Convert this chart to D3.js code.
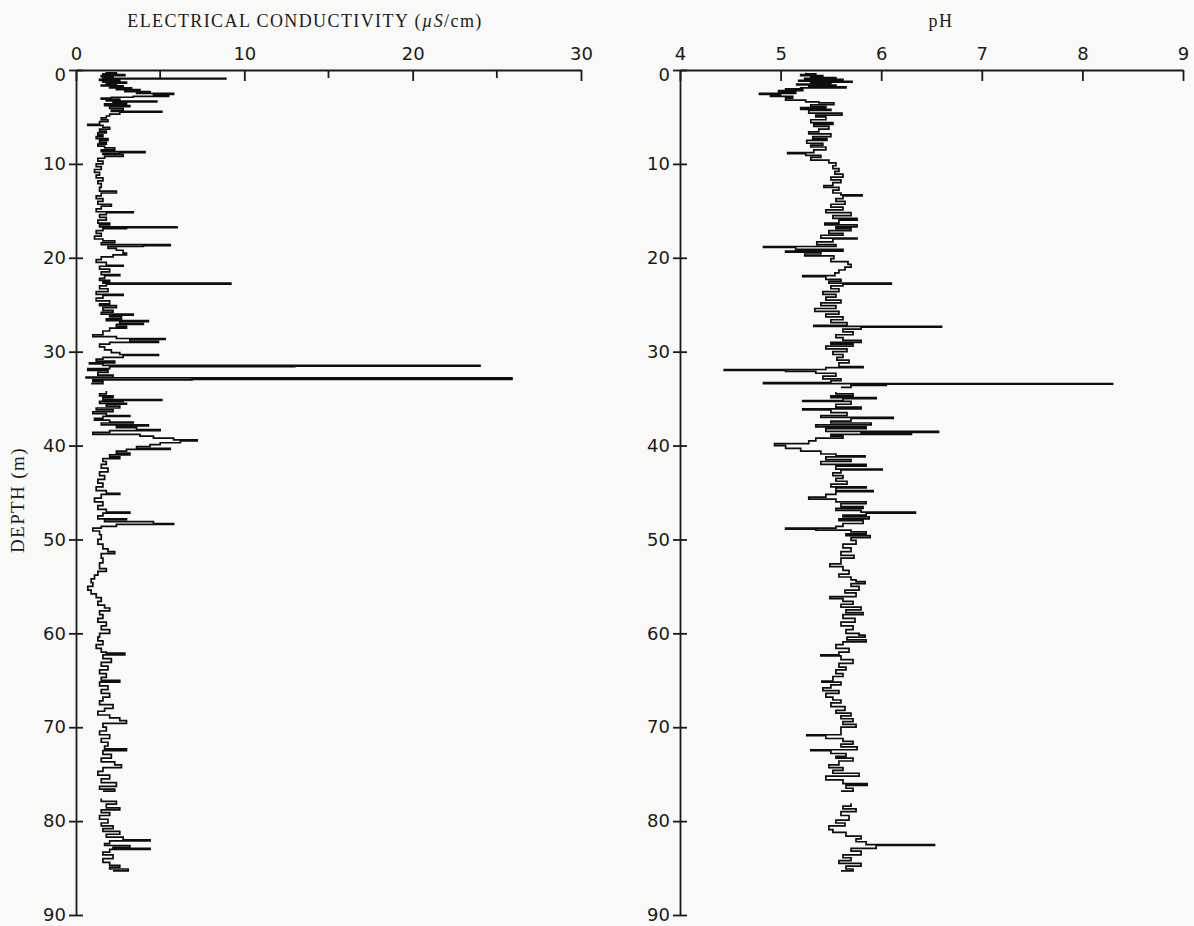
<!DOCTYPE html>
<meta charset='utf-8'>
<style>
  body { margin:0; background:#f9f9f7; }
  .tick text { font-family:'DejaVu Sans',sans-serif; font-size:18px; fill:#1a1a1a; }
  .domain, .tick line, .minor { stroke:#1a1a1a; stroke-width:1.8px; }
  .trace { fill:none; stroke:#0d0d0d; stroke-width:1.7px; }
  .title { font-family:'Liberation Serif',serif; font-size:18px; fill:#1a1a1a; letter-spacing:1.4px; }
</style>
<body>
<script src='https://d3js.org/d3.v7.min.js'></script>
<script>
// depth (m), conductivity (uS/cm); null = no core
var ecProfile = [
  [0.2,1.8],[0.3,2.4],[0.4,1.6],[0.5,2.9],[0.6,1.5],[0.7,2.2],[0.8,1.6],[0.9,8.9],[0.95,2.0],
  [1.0,1.4],[1.1,2.6],[1.2,1.6],[1.3,3.0],[1.4,1.8],[1.5,2.4],[1.6,1.5],[1.7,2.8],[1.8,2.0],
  [1.9,3.3],[2.0,2.4],[2.1,3.8],[2.2,2.9],[2.3,4.4],[2.4,3.6],[2.5,5.8],[2.6,4.6],[2.7,5.5],
  [2.8,3.4],[2.9,2.1],[3.0,1.5],[3.1,2.6],[3.2,1.8],[3.3,4.8],[3.4,2.2],[3.5,3.0],[3.6,1.7],
  [3.8,3.2],[3.9,2.0],[4.1,2.8],[4.3,2.1],[4.4,5.1],[4.5,2.6],[4.7,2.0],[4.9,1.8],[5.1,1.5],
  [5.3,1.9],[5.5,1.4],[5.8,0.7],[5.9,1.6],[6.1,2.0],[6.3,1.4],[6.5,1.8],[6.7,1.3],[6.9,1.6],
  [7.1,1.2],[7.3,1.9],[7.5,1.4],[7.7,1.8],[7.9,1.3],[8.1,1.7],[8.3,2.3],[8.5,1.5],[8.7,4.1],
  [8.8,2.6],[8.9,1.6],[9.0,2.8],[9.2,1.7],[9.4,1.3],[9.7,1.6],[10.0,1.2],[10.3,1.5],[10.6,1.1],
  [10.9,1.4],[11.2,1.2],[11.5,1.6],[11.8,1.3],[12.1,1.5],[12.5,1.4],[12.9,2.4],[13.1,1.5],
  [13.4,1.2],[13.7,1.6],[14.0,1.3],[14.3,2.1],[14.5,1.5],[14.8,1.2],[15.1,3.4],[15.2,1.8],
  [15.4,1.4],[15.7,1.8],[16.0,1.3],[16.3,2.0],[16.5,1.4],[16.7,6.0],[16.8,3.0],[16.9,1.6],
  [17.1,1.2],[17.4,1.5],[17.7,1.1],[18.0,1.6],[18.2,2.3],[18.4,1.5],[18.6,5.6],[18.7,4.0],
  [18.8,1.9],[19.0,2.4],[19.2,2.8],[19.5,3.0],[19.7,2.2],[19.9,1.5],[20.2,1.2],[20.5,1.8],
  [20.8,2.8],[20.9,1.4],[21.2,2.0],[21.5,1.5],[21.8,2.6],[21.9,1.7],[22.2,1.4],[22.4,2.0],
  [22.6,1.6],[22.7,9.2],[22.8,1.8],[23.0,1.4],[23.3,1.9],[23.6,1.2],[23.9,2.8],[24.0,1.6],
  [24.3,1.2],[24.6,2.0],[24.9,1.4],[25.1,2.4],[25.3,1.6],[25.6,2.2],[25.8,1.5],[26.0,3.4],
  [26.1,2.0],[26.3,2.7],[26.5,1.8],[26.7,4.3],[26.8,2.6],[27.0,4.0],[27.1,2.4],[27.3,3.0],
  [27.5,2.0],[27.8,1.6],[28.2,1.0],[28.4,2.4],[28.6,5.3],[28.7,3.2],[28.9,4.9],[29.0,2.0],
  [29.2,1.4],[29.5,1.7],[29.8,2.1],[30.1,2.6],[30.3,4.9],[30.4,2.8],[30.6,1.6],[30.8,1.2],
  [31.0,2.3],[31.2,0.8],[31.3,1.6],[31.45,24.0],[31.55,13.0],[31.6,2.0],[31.8,0.7],[32.0,1.9],
  [32.2,1.3],[32.5,2.2],[32.7,0.6],[32.8,25.9],[32.95,6.9],[33.0,1.0],[33.2,1.6],[33.4,0.9],
  [33.6,null],[34.2,1.8],[34.5,1.4],[34.7,2.2],[34.9,1.6],[35.1,5.1],[35.2,2.8],[35.3,1.4],
  [35.5,3.0],[35.6,1.8],[35.8,2.6],[36.0,1.2],[36.2,2.2],[36.4,1.0],[36.6,1.8],[36.8,3.2],
  [36.9,1.6],[37.1,1.1],[37.3,2.0],[37.5,3.4],[37.6,1.5],[37.8,4.3],[37.9,2.4],[38.1,3.6],
  [38.3,5.0],[38.4,2.0],[38.6,1.0],[38.8,3.8],[39.0,4.6],[39.2,5.8],[39.4,7.2],[39.5,6.2],
  [39.7,5.0],[39.9,4.4],[40.1,3.6],[40.3,5.6],[40.4,3.0],[40.6,2.4],[40.8,3.2],[41.0,2.0],
  [41.2,2.6],[41.4,1.6],[41.7,1.8],[42.0,1.5],[42.4,1.9],[42.8,1.4],[43.2,1.7],[43.6,1.3],
  [44.0,1.6],[44.4,1.2],[44.8,1.8],[45.1,2.6],[45.2,1.5],[45.6,1.1],[46.0,1.6],[46.4,1.3],
  [46.8,1.8],[47.1,3.2],[47.2,1.6],[47.5,1.3],[47.8,3.0],[47.9,1.7],[48.1,4.6],[48.3,5.8],
  [48.4,2.4],[48.6,1.5],[48.8,1.0],[49.1,1.4],[49.5,1.5],[50.0,1.3],[50.5,1.6],[51.0,1.9],
  [51.3,2.3],[51.5,1.5],[52.0,1.6],[52.5,1.4],[53.1,1.8],[53.4,1.3],[53.8,1.1],[54.2,0.9],
  [54.6,1.0],[55.0,0.7],[55.4,0.9],[55.8,1.2],[56.2,1.5],[56.6,1.3],[57.0,1.7],[57.3,2.0],
  [57.6,1.4],[58.0,1.6],[58.4,1.3],[58.8,1.8],[59.2,1.5],[59.6,2.0],[60.0,1.4],[60.4,1.3],
  [60.8,1.6],[61.2,1.2],[61.6,1.5],[62.0,1.8],[62.1,2.9],[62.3,1.6],[62.7,2.1],[63.1,1.5],
  [63.5,1.9],[63.9,1.4],[64.3,1.8],[64.7,1.5],[65.0,2.6],[65.2,1.4],[65.6,1.9],[66.0,1.5],
  [66.4,2.0],[66.8,1.6],[67.2,1.4],[67.6,2.2],[68.0,1.7],[68.3,1.3],[68.7,2.0],[69.0,2.6],
  [69.3,3.0],[69.6,1.6],[70.0,1.8],[70.4,1.4],[70.8,2.0],[71.2,1.5],[71.6,1.9],[72.0,1.7],
  [72.3,3.0],[72.5,1.6],[72.9,2.1],[73.3,1.5],[73.7,2.3],[74.0,2.7],[74.3,1.6],[74.7,1.3],
  [75.1,2.0],[75.5,1.5],[75.9,2.4],[76.3,1.4],[76.6,2.3],[76.8,1.6],[77.0,null],[77.6,1.5],
  [77.9,2.4],[78.2,1.8],[78.6,2.6],[78.8,1.5],[79.1,2.0],[79.4,1.4],[79.8,1.9],[80.2,1.5],
  [80.5,2.2],[80.8,1.6],[81.1,2.6],[81.4,1.8],[81.7,2.8],[82.0,4.4],[82.1,2.0],[82.4,1.7],
  [82.6,3.2],[82.8,2.2],[82.9,4.4],[83.0,2.0],[83.3,1.6],[83.6,2.2],[84.0,1.6],[84.4,2.0],
  [84.7,2.6],[84.9,2.0],[85.1,3.1],[85.3,2.2]
];

// depth (m), pH
var phProfile = [
  [0.3,5.25],[0.4,5.35],[0.5,5.20],[0.6,5.42],[0.7,5.30],[0.8,5.55],[0.9,5.24],[1.0,5.62],
  [1.1,5.18],[1.2,5.71],[1.3,5.30],[1.4,5.50],[1.5,5.16],[1.6,5.55],[1.7,5.28],[1.8,5.65],
  [1.9,5.20],[2.0,5.05],[2.1,5.22],[2.2,4.98],[2.3,5.15],[2.5,4.79],[2.6,5.00],[2.7,4.90],
  [2.8,5.12],[3.0,5.05],[3.2,5.25],[3.4,5.38],[3.5,5.53],[3.7,5.30],[3.9,5.45],[4.0,5.20],
  [4.2,5.50],[4.3,5.28],[4.6,5.61],[4.8,5.35],[5.0,5.45],[5.3,5.30],[5.6,5.52],[5.8,5.33],
  [6.0,5.48],[6.3,5.38],[6.6,5.28],[6.8,5.50],[7.1,5.32],[7.3,5.46],[7.5,5.26],[7.8,5.42],
  [8.0,5.30],[8.2,5.45],[8.5,5.33],[8.8,5.07],[8.9,5.25],[9.1,5.40],[9.3,5.30],[9.6,5.48],
  [9.9,5.55],[10.2,5.52],[10.5,5.58],[10.8,5.54],[11.1,5.62],[11.4,5.50],[11.7,5.60],[12.0,5.52],
  [12.3,5.43],[12.5,5.58],[12.8,5.52],[13.1,5.60],[13.3,5.81],[13.4,5.62],[13.7,5.55],[14.0,5.64],
  [14.3,5.50],[14.6,5.62],[14.9,5.45],[15.2,5.70],[15.5,5.52],[15.8,5.76],[16.0,5.58],[16.3,5.44],
  [16.5,5.76],[16.7,5.55],[16.9,5.70],[17.1,5.48],[17.4,5.62],[17.6,5.40],[17.9,5.76],[18.0,5.52],
  [18.3,5.36],[18.6,5.55],[18.8,4.83],[18.9,5.15],[19.1,5.62],[19.3,5.05],[19.4,5.40],[19.6,5.24],
  [19.8,5.53],[20.1,5.50],[20.4,5.67],[20.7,5.70],[21.0,5.64],[21.3,5.58],[21.6,5.54],[21.9,5.22],
  [22.0,5.45],[22.3,5.60],[22.5,5.48],[22.7,6.10],[22.8,5.62],[23.0,5.50],[23.3,5.58],[23.6,5.42],
  [23.9,5.55],[24.2,5.45],[24.5,5.60],[24.8,5.40],[25.1,5.55],[25.4,5.34],[25.7,5.58],[26.0,5.45],
  [26.3,5.62],[26.6,5.50],[26.9,5.66],[27.2,5.33],[27.3,6.60],[27.4,5.80],[27.6,5.62],[27.9,5.72],
  [28.2,5.55],[28.5,5.62],[28.8,5.80],[29.0,5.50],[29.2,5.72],[29.4,5.45],[29.7,5.66],[30.0,5.52],
  [30.3,5.62],[30.6,5.56],[30.9,5.68],[31.2,5.58],[31.6,5.82],[31.7,5.45],[31.9,4.44],[32.0,5.05],
  [32.1,5.35],[32.3,5.55],[32.6,5.42],[32.9,5.60],[33.1,5.50],[33.3,4.83],[33.4,8.30],[33.45,6.05],
  [33.6,5.70],[33.8,5.60],[34.0,null],[34.3,5.55],[34.5,5.72],[34.7,5.50],[34.9,5.95],[35.0,5.62],
  [35.2,5.22],[35.3,5.70],[35.6,5.55],[35.9,5.80],[36.1,5.22],[36.2,5.50],[36.5,5.66],[36.8,5.40],
  [37.0,6.12],[37.1,5.70],[37.4,5.50],[37.6,5.90],[37.8,5.35],[38.0,5.85],[38.2,5.45],[38.5,6.57],
  [38.6,5.80],[38.7,6.30],[38.8,5.50],[39.0,5.62],[39.2,5.35],[39.5,5.28],[39.8,4.94],[40.0,5.05],
  [40.3,5.20],[40.6,5.40],[40.9,5.55],[41.1,5.84],[41.2,5.45],[41.5,5.70],[41.7,5.40],[42.0,5.85],
  [42.2,5.55],[42.5,6.01],[42.6,5.60],[42.9,5.52],[43.2,5.62],[43.5,5.55],[43.8,5.66],[44.1,5.50],
  [44.4,5.85],[44.5,5.55],[44.8,5.92],[44.9,5.55],[45.2,5.45],[45.5,5.28],[45.7,5.55],[46.0,5.85],
  [46.2,5.60],[46.5,5.82],[46.7,5.55],[46.9,5.80],[47.1,6.34],[47.2,5.85],[47.4,5.62],[47.6,5.88],
  [47.8,5.58],[48.0,5.82],[48.3,5.62],[48.6,5.55],[48.8,5.05],[48.9,5.35],[49.0,5.70],[49.2,5.85],
  [49.4,5.65],[49.6,5.89],[49.8,5.70],[50.1,5.75],[50.5,5.62],[50.9,5.70],[51.3,5.60],[51.7,5.73],
  [52.0,5.60],[52.6,5.49],[52.9,5.62],[53.3,5.68],[53.7,5.58],[54.0,5.70],[54.3,5.75],[54.5,5.84],
  [54.7,5.70],[55.0,5.78],[55.4,5.64],[55.7,5.75],[56.1,5.49],[56.3,5.62],[56.6,5.72],[56.9,5.60],
  [57.2,5.80],[57.5,5.65],[57.8,5.82],[58.0,5.62],[58.4,5.74],[58.8,5.60],[59.2,5.72],[59.6,5.65],
  [60.0,5.78],[60.2,5.84],[60.4,5.66],[60.7,5.85],[60.9,5.62],[61.2,5.55],[61.6,5.68],[62.0,5.58],
  [62.3,5.40],[62.4,5.60],[62.8,5.72],[63.2,5.58],[63.6,5.65],[63.9,5.55],[64.3,5.62],[64.6,5.52],
  [65.1,5.41],[65.2,5.60],[65.5,5.50],[65.8,5.42],[66.1,5.58],[66.4,5.45],[66.8,5.52],[67.1,5.60],
  [67.4,5.50],[67.8,5.64],[68.2,5.55],[68.5,5.70],[68.8,5.60],[69.1,5.72],[69.4,5.62],[69.7,5.75],
  [70.0,5.60],[70.8,5.26],[70.9,5.45],[71.2,5.62],[71.5,5.72],[71.8,5.60],[72.1,5.76],[72.4,5.30],
  [72.5,5.50],[72.8,5.65],[73.1,5.55],[73.3,5.72],[73.6,5.58],[74.0,5.48],[74.3,5.62],[74.6,5.52],
  [74.9,5.78],[75.2,5.45],[75.6,5.62],[76.0,5.86],[76.2,5.65],[76.5,5.72],[76.8,5.60],[77.0,null],
  [78.1,5.70],[78.4,5.62],[78.7,5.75],[79.0,5.60],[79.4,5.68],[79.9,5.55],[80.2,5.64],[80.5,5.48],
  [80.9,5.52],[81.2,5.65],[81.6,5.80],[81.9,5.75],[82.2,5.85],[82.5,6.53],[82.6,5.95],[82.9,5.70],
  [83.2,5.80],[83.6,5.62],[83.9,5.70],[84.2,5.58],[84.5,5.80],[84.8,5.65],[85.1,5.72],[85.3,5.60]
];

var ecTicks = [0,10,20,30];
var ecMinorTicks = [5,15,25];
var phTicks = [4,5,6,7,8,9];
var depthTicks = [0,10,20,30,40,50,60,70,80,90];

var width = 1194, height = 926;

var svg = d3.select('body').append('svg')
  .attr('width',width)
  .attr('height',height);

var y = d3.scaleLinear().domain([0,90]).range([70,915]);
var xEC = d3.scaleLinear().domain([0,30]).range([76,581]);
var xPH = d3.scaleLinear().domain([4,9]).range([680,1183]);

function drawPanel(x, ticks, minor, data) {
  // top value axis, ticks pointing down into the plot
  svg.append('g')
    .attr('transform','translate(0,'+y(0)+')')
    .call(d3.axisTop(x).tickValues(ticks).tickFormat(d3.format('d'))
      .tickSizeInner(-11).tickSizeOuter(0).tickPadding(10));
  if (minor) {
    svg.append('g').selectAll('line')
      .data(minor).enter().append('line')
      .attr('class','minor')
      .attr('x1',d => x(d)).attr('x2',d => x(d))
      .attr('y1',y(0)).attr('y2',y(0)+8);
  }
  // depth axis, ticks cross the axis line
  var left = svg.append('g')
    .attr('transform','translate('+x.range()[0]+',0)')
    .call(d3.axisLeft(y).tickValues(depthTicks).tickSizeInner(7).tickSizeOuter(0).tickPadding(3));
  left.selectAll('.tick').append('line').attr('x2',7);
  left.select('.tick text').attr('dy','0.6em');

  var line = d3.line()
    .defined(d => d[1] != null)
    .x(d => x(d[1]))
    .y(d => y(d[0]))
    .curve(d3.curveStepBefore);

  svg.append('path')
    .datum(data)
    .attr('class','trace')
    .attr('d',line);
}

drawPanel(xEC, ecTicks, ecMinorTicks, ecProfile);
drawPanel(xPH, phTicks, null, phProfile);

// titles
var t = svg.append('text').attr('class','title')
  .attr('x',305).attr('y',27).attr('text-anchor','middle');
t.append('tspan').text('ELECTRICAL CONDUCTIVITY (');
t.append('tspan').attr('font-style','italic').text('\u00b5S');
t.append('tspan').text('/cm)');

svg.append('text').attr('class','title')
  .attr('x',941).attr('y',27).attr('text-anchor','middle')
  .text('pH');

svg.append('text').attr('class','title')
  .attr('transform','translate(24,500) rotate(-90)')
  .attr('text-anchor','middle')
  .style('font-size','19px')
  .text('DEPTH (m)');
</script>
</body>
